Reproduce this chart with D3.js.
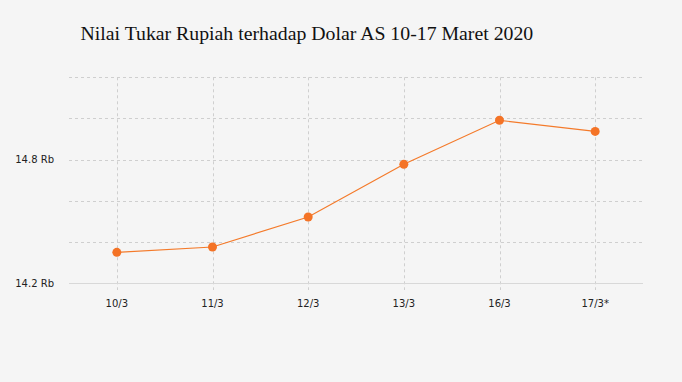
<!DOCTYPE html>
<html>
<head>
<meta charset="utf-8">
<script src="https://cdn.jsdelivr.net/npm/d3@7"></script>
<style>
  body { margin: 0; background: #f5f5f5; }
  svg { display: block; }
</style>
</head>
<body>
<div id="chart"></div>
<script>
var width = 682
var height = 382

// data, in thousand rupiah per dollar (Rb)
var dates = ["10/3", "11/3", "12/3", "13/3", "16/3", "17/3*"]
var rates = [14.349, 14.375, 14.521, 14.777, 14.991, 14.937]
var gridTicks = [14.2, 14.4, 14.6, 14.8, 15.0, 15.2]
var labelTicks = [14.2, 14.8]

// plot box (don't call these top/left: they clash with window globals)
var plotLeft = 69, plotRight = 643, plotTop = 77.3, plotBottom = 283

var svg = d3.select("#chart").append("svg")
  .attr("width", width).attr("height", height)

svg.append("rect").attr("width", width).attr("height", height).attr("fill", "#f5f5f5")

svg.append("text")
  .attr("x", 80.5).attr("y", 40)
  .attr("font-family", "'Liberation Serif', 'Times New Roman', serif")
  .attr("font-size", "19.8px")
  .attr("fill", "#111")
  .text("Nilai Tukar Rupiah terhadap Dolar AS 10-17 Maret 2020")

var x = d3.scalePoint().domain(dates).range([plotLeft, plotRight]).padding(0.5)
var y = d3.scaleLinear().domain([14.2, 15.2]).range([plotBottom, plotTop])

// horizontal grid
svg.append("g").selectAll("line")
  .data(gridTicks.slice(1))
  .enter().append("line")
  .attr("x1", plotLeft).attr("x2", plotRight)
  .attr("y1", function(d){ return Math.round(y(d)) + 0.5 })
  .attr("y2", function(d){ return Math.round(y(d)) + 0.5 })
  .attr("stroke", "#cfcfcf")
  .attr("stroke-dasharray", "3,3")

// vertical grid (runs a bit below the axis like a tick)
svg.append("g").selectAll("line")
  .data(dates)
  .enter().append("line")
  .attr("x1", function(d){ return Math.round(x(d)) + 0.5 })
  .attr("x2", function(d){ return Math.round(x(d)) + 0.5 })
  .attr("y1", plotTop).attr("y2", plotBottom + 7)
  .attr("stroke", "#cfcfcf")
  .attr("stroke-dasharray", "3,3")

// base axis line
svg.append("line")
  .attr("x1", plotLeft).attr("x2", plotRight)
  .attr("y1", Math.round(y(14.2)) + 0.5).attr("y2", Math.round(y(14.2)) + 0.5)
  .attr("stroke", "#d8d8d8")

// y labels
svg.append("g").selectAll("text")
  .data(labelTicks)
  .enter().append("text")
  .attr("x", 54).attr("y", function(d){ return y(d) })
  .attr("dy", "0.35em")
  .attr("text-anchor", "end")
  .attr("font-family", "'DejaVu Sans', Verdana, sans-serif")
  .attr("font-size", "10px")
  .attr("fill", "#222")
  .text(function(d){ return d3.format(".1f")(d) + " Rb" })

// x labels
svg.append("g").selectAll("text")
  .data(dates)
  .enter().append("text")
  .attr("x", function(d){ return x(d) }).attr("y", 303)
  .attr("dy", "0.35em")
  .attr("text-anchor", "middle")
  .attr("font-family", "'DejaVu Sans', Verdana, sans-serif")
  .attr("font-size", "10px")
  .attr("fill", "#222")
  .text(function(d){ return d })

var pts = dates.map(function(d, i){ return {date: d, value: rates[i]} })

var line = d3.line()
  .x(function(d){ return x(d.date) })
  .y(function(d){ return y(d.value) })

svg.append("path")
  .datum(pts)
  .attr("d", line)
  .attr("fill", "none")
  .attr("stroke", "#f47a2a")
  .attr("stroke-width", 1.2)

svg.append("g").selectAll("circle")
  .data(pts)
  .enter().append("circle")
  .attr("cx", function(d){ return x(d.date) })
  .attr("cy", function(d){ return y(d.value) })
  .attr("r", 4.5)
  .attr("fill", "#f47326")
</script>
</body>
</html>
